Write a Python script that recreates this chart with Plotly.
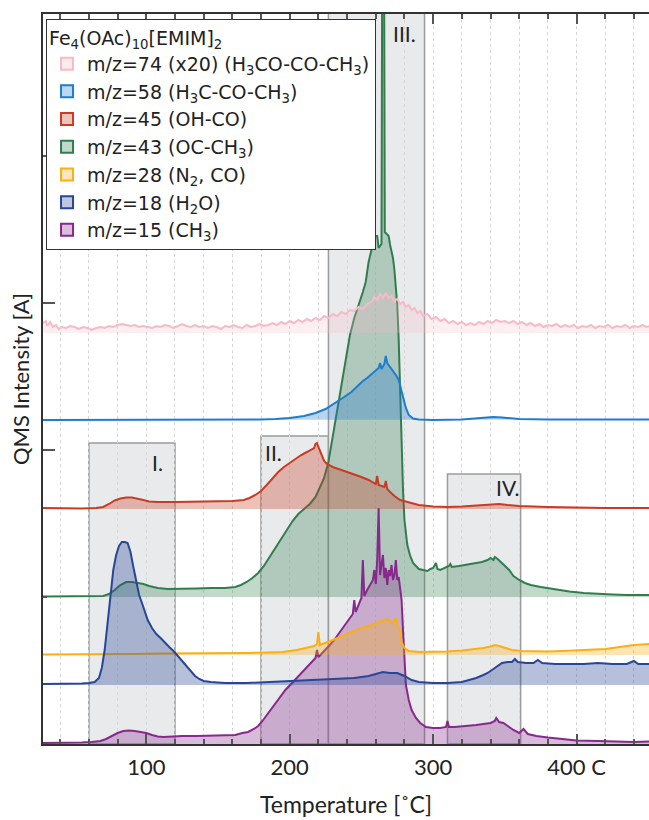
import plotly.graph_objects as go

# ---------------------------------------------------------------------------
# QMS ion currents during heating of Fe4(OAc)10[EMIM]2
# each list: (temperature in deg C, signal above its own baseline, a.u.)
# ---------------------------------------------------------------------------
mz74 = [(28,10),(30,12),(31,7),(33,11),(35,6),(37,8),(39,4),(41,6),(44,5),(47,7),(50,6),(53,4),
        (56,6),(59,5),(62,3),(65,5),(68,6),(71,5),(74,7),(77,6),(80,8),(83,9),(86,8),(89,7),
        (92,8),(95,6),(98,7),(101,6),(104,5),(107,7),(110,6),(113,8),(116,7),(119,5),(122,7),
        (125,9),(128,7),(131,6),(134,8),(137,6),(140,7),(143,5),(146,7),(149,6),(152,4),(155,7),
        (158,6),(161,8),(164,6),(167,5),(170,8),(173,6),(176,7),(179,9),(182,7),(185,8),(188,10),
        (191,8),(194,11),(197,9),(200,12),(203,10),(206,13),(209,11),(212,14),(215,12),(218,15),
        (221,13),(224,17),(227,15),(230,19),(233,17),(236,21),(239,19),(242,23),(245,22),(248,26),
        (251,24),(254,29),(257,31),(259,36),(261,33),(263,39),(265,35),(267,40),(269,35),(271,37),
        (273,32),(275,34),(277,29),(279,31),(281,26),(283,28),(285,23),(287,25),(289,20),(291,22),
        (293,17),(296,19),(299,14),(302,16),(305,12),(308,14),(311,10),(314,12),(317,9),(320,11),
        (323,8),(326,10),(329,8),(332,11),(335,9),(338,12),(341,10),(344,13),(347,11),(350,12),
        (353,10),(356,12),(359,9),(362,11),(365,8),(368,10),(371,7),(374,9),(377,6),(380,8),
        (383,7),(386,9),(389,6),(392,8),(395,6),(398,8),(401,5),(404,7),(407,6),(410,8),(413,5),
        (416,7),(419,6),(422,8),(425,5),(428,7),(431,6),(434,8),(437,5),(440,7),(443,6),(446,8),
        (449,6),(451,7)]

mz58 = [(28,0),(100,0),(160,0),(180,0.5),(190,1),(200,2),(210,4),(218,7),(225,11),(232,17),
        (238,23),(243,28),(247,34),(251,39),(254,42),(257,46),(260,50),(262,52),(263,57),(264,51),
        (266,56),(267,64),(268,57),(270,53),(272,50),(274,45),(276,40),(277,34),(279,23),(281,12),
        (283,5),(286,1.5),(290,0.5),(300,0),(320,0.5),(335,2),(342,3),(348,2.5),(360,1),(380,0.5),
        (451,0.5)]

mz45 = [(28,1),(40,0.5),(55,0.5),(65,1),(70,2),(74,5),(78,8.5),(82,10.5),(86,11.5),(90,11.5),
        (94,10.5),(98,9),(102,7.5),(108,7),(120,7),(135,7.5),(150,7.5),(160,8),(168,9),(172,11),
        (176,14),(180,18),(184,24),(188,31),(192,37),(196,42),(200,46),(204,50),(208,54),(212,57),
        (215,59),(217,61),(218,65),(219,66),(220,62),(222,54),(224,48),(226,45),(230,42),(235,39.5),
        (240,37),(245,35),(250,32),(255,29),(258,27),(260,25),(261,33),(262,24),(264,23),(266,22),
        (267,28),(268,20),(270,17),(273,13),(277,9),(282,7),(290,4),(300,2.5),(310,2),(320,2.5),
        (330,3.5),(340,4.5),(346,5),(352,4),(360,3),(380,2),(400,1.5),(420,1),(451,1)]

mz43 = [(28,0.5),(45,0.5),(60,0.5),(70,1),(74,3),(78,7),(82,12),(86,15),(90,15),(94,14),(98,13),
        (102,11),(108,9),(115,8),(125,8),(135,8.5),(145,9),(155,9),(162,10),(166,12),(170,15),
        (174,19),(178,24),(182,31),(186,40),(190,49),(194,59),(198,68),(202,76),(206,83),(210,88),
        (214,93),(218,100),(221,109),(224,119),(227,135),(229,152),(231,169),(233,187),(236,212),
        (239,237),(242,262),(245,279),(247,287),(249,297),(251,305),(253,315),(255,335),(257,347),
        (258,357),(259,359),(260,361),(261,361),(262,349),(263,351),(264,353),(264.5,640),
        (265.8,640),(266.3,365),(268,363),(269,361),(270,352),(272,339),(273,327),(274,312),
        (275,292),(276,257),(277,217),(278,157),(279,107),(280,77),(282,52),(284,41),(286,34),
        (288,31),(290,28),(293,27),(296,26),(298,28),(300,29),(302,34),(303,28),(305,27),(308,29),
        (311,31),(312,33),(313,30),(318,31),(322,32),(326,33),(330,34.5),(334,35),(338,37),(340,39),
        (342,37),(343,40),(345,38),(347,35),(350,31),(353,27),(356,21),(360,17),(364,14),(368,12),
        (375,10),(385,7.5),(395,5.5),(405,4),(415,3),(425,2.5),(435,2),(451,2)]

mz28 = [(28,0.5),(50,0.5),(70,1),(90,1),(110,1.5),(130,1.5),(150,1.5),(170,2),(185,2.5),(195,3),
        (205,5),(212,7),(217,9),(219,11),(220,23),(221,10),(225,12),(230,15),(235,18),(240,21),
        (245,24),(250,27),(255,29),(258,31),(262,33),(266,35),(268,36),(270,34),(272,32),(274,37),
        (275,30),(277,25),(278,13),(280,7),(283,4),(290,3),(300,3),(310,3.5),(320,4.5),(330,6),
        (335,7),(340,8.5),(343,10),(346,9),(350,7),(355,5),(362,4),(370,3.5),(380,3.5),(390,4),
        (400,4.5),(410,5),(420,6),(430,8),(440,10),(451,11)]

mz18 = [(28,1),(40,1),(50,1),(55,1.5),(60,2),(64,3),(67,7),(69,17),(71,35),(73,60),(75,90),
        (77,115),(79,130),(81,139),(83,143),(85,143),(87,142),(89,133),(91,118),(93,102),(95,90),
        (97,82),(99,73),(101,65),(104,57),(107,51),(110,47),(113,42),(116,38),(119,34),(122,29),
        (125,24),(128,18),(131,13),(134,9),(137,6),(140,4),(145,3),(155,2),(170,2),(185,3),(200,4),
        (215,5),(230,6),(245,7),(255,9),(262,12),(265,13),(270,12),(275,12),(280,9),(285,5),(290,3),
        (300,2),(310,2),(320,3),(325,5),(330,7),(335,10),(338,12),(342,16),(345,19),(348,22),
        (352,23),(355,23),(357,26),(359,23),(365,22),(370,22),(373,25),(376,22),(385,21),(395,21),
        (405,21),(415,22),(425,21),(435,21),(440,24),(443,21),(451,21)]

mz15 = [(28,1),(35,1),(45,1),(55,1.5),(62,2),(68,3),(72,5),(76,8),(80,11),(84,13),(88,13.5),
        (92,13),(96,12),(100,11),(104,9),(108,7.5),(112,7),(118,7.5),(125,8),(135,8),(145,8.5),
        (155,8.5),(162,9),(167,11),(171,12),(175,15),(178,18),(181,23),(185,31),(189,39),(193,47),
        (197,54),(201,60),(205,66),(209,72),(213,78),(216,83),(218,86),(219,94),(220,87),(222,90),
        (225,94),(228,99),(231,104),(234,110),(237,116),(240,122),(242,126),(244,130),(245,144),
        (246,132),(248,139),(250,146),(251,184),(252,148),(254,154),(256,159),(258,164),(259,174),
        (260,160),(261,184),(262,236),(263,169),(264,179),(265,189),(266,166),(267,176),(268,159),
        (269,174),(270,168),(271,179),(272,164),(273,169),(274,184),(275,164),(276,167),(277,154),
        (278,144),(279,114),(280,84),(281,59),(283,44),(285,34),(288,26),(291,21),(295,17),(300,16),
        (305,16),(309,17),(310,23),(311,17),(315,17),(320,17.5),(325,18.5),(330,19),(335,20),
        (340,21),(343,23),(344,26),(346,22),(349,21),(352,18),(356,14),(360,11),(363,15),(366,10),
        (372,8),(380,6.5),(390,5),(400,3.5),(415,3),(430,2),(440,2),(451,2.5)]

# legend labels, top to bottom
names = {
    "74": "m/z=74 (x20) (H<sub>3</sub>CO-CO-CH<sub>3</sub>)",
    "58": "m/z=58 (H<sub>3</sub>C-CO-CH<sub>3</sub>)",
    "45": "m/z=45 (OH-CO)",
    "43": "m/z=43 (OC-CH<sub>3</sub>)",
    "28": "m/z=28 (N<sub>2</sub>, CO)",
    "18": "m/z=18 (H<sub>2</sub>O)",
    "15": "m/z=15 (CH<sub>3</sub>)",
}
series = {"74": mz74, "58": mz58, "45": mz45, "43": mz43, "28": mz28, "18": mz18, "15": mz15}

# vertical stacking of the traces (axis units)
offsets = {"74": 411, "58": 324, "45": 235, "43": 147, "28": 89, "18": 59, "15": 0}
line_rgb = {
    "74": (246, 186, 200),
    "58": (30, 125, 205),
    "45": (200, 60, 35),
    "43": (50, 125, 80),
    "28": (250, 175, 20),
    "18": (40, 70, 150),
    "15": (135, 40, 140),
}
fill_alpha = {"74": 0.25, "58": 0.32, "45": 0.32, "43": 0.30, "28": 0.32, "18": 0.34, "15": 0.32}

# decomposition stages (start, end, box top, label, label x, label y)
stages = [
    (60, 120, 301, "I.", 108, 282),
    (180, 227, 308, "II.", 189, 292),
    (227, 294, 740, "III.", 280, 711),
    (310, 361, 270, "IV.", 352, 257),
]

X_RANGE = [28, 450.5]
Y_RANGE = [0, 730]

def rgb(c, a=None):
    if a is None:
        return "rgb(%d,%d,%d)" % c
    return "rgba(%d,%d,%d,%.2f)" % (c + (a,))

fig = go.Figure()

legend_order = ["74", "58", "45", "43", "28", "18", "15"]
draw_order = ["43", "15", "74", "58", "45", "28", "18"]

# each curve with its filled area down to its own baseline
for key in draw_order:
    t = [p[0] for p in series[key]]
    v = [p[1] + offsets[key] for p in series[key]]
    base = offsets[key]
    fig.add_trace(go.Scatter(
        x=t + [t[-1], t[0]], y=v + [base, base],
        mode="lines", line=dict(width=0), fill="toself",
        fillcolor=rgb(line_rgb[key], fill_alpha[key]),
        hoverinfo="skip", showlegend=False))
    fig.add_trace(go.Scatter(
        x=t, y=v, mode="lines",
        line=dict(color=rgb(line_rgb[key]), width=2),
        showlegend=False))

# legend swatches
for i, key in enumerate(legend_order):
    fig.add_trace(go.Scatter(
        x=[None], y=[None], mode="markers", name=names[key], legendrank=i + 1,
        marker=dict(symbol="square", size=14, color=rgb(line_rgb[key], 0.30),
                    line=dict(color=rgb(line_rgb[key]), width=2))))

shapes = []
annotations = []
for (t0, t1, top, lab, lx, ly) in stages:
    shapes.append(dict(type="rect", xref="x", yref="y", x0=t0, x1=t1, y0=0, y1=top,
                       fillcolor="#e9eaec", line=dict(color="#9c9c9c", width=1.5),
                       layer="below"))
    annotations.append(dict(x=lx, y=ly, xref="x", yref="y", text=lab, showarrow=False,
                            font=dict(family="Lato", size=21, color="#222")))

fig.update_layout(
    width=649, height=820,
    margin=dict(l=43, r=0, t=14, b=76),
    paper_bgcolor="white", plot_bgcolor="white",
    font=dict(family="Lato", color="#222"),
    shapes=shapes, annotations=annotations,
    legend=dict(
        x=0.005, y=0.993, xanchor="left", yanchor="top",
        bgcolor="white", bordercolor="#333", borderwidth=1,
        font=dict(family="DejaVu Sans", size=19, color="#222"),
        title=dict(text="Fe<sub>4</sub>(OAc)<sub>10</sub>[EMIM]<sub>2</sub>",
                   font=dict(family="DejaVu Sans", size=19, color="#222"), side="top"),
        tracegroupgap=0, itemsizing="constant",
    ),
    xaxis=dict(
        range=X_RANGE, showline=True, linecolor="#333", linewidth=1.5, mirror="ticks",
        ticks="inside", ticklen=10, tickcolor="#555", tickwidth=1.5,
        tick0=0, dtick=100, labelalias={"400": "400 C"},
        tickfont=dict(family="Lato", size=22, color="#222"), ticklabelstandoff=3,
        showgrid=True, gridcolor="#d6d6d6", griddash="dot", gridwidth=1,
        minor=dict(tick0=0, dtick=20, ticks="inside", ticklen=5, tickcolor="#555",
                   showgrid=True, gridcolor="#d6d6d6", griddash="dot", gridwidth=1),
        title=dict(text="Temperature [˚C]", font=dict(family="Lato", size=23, color="#222"),
                   standoff=18),
        zeroline=False,
    ),
    yaxis=dict(
        range=Y_RANGE, showline=True, linecolor="#333", linewidth=1.5,
        showticklabels=False, ticks="inside", ticklen=12, tickcolor="#555", tickwidth=1.5,
        tickmode="array", tickvals=[294, 441],
        minor=dict(tickmode="array", tickvals=[0, 147, 588], ticks="inside", ticklen=4,
                   tickcolor="#555"),
        showgrid=False, zeroline=False,
        title=dict(text="QMS Intensity [A]", font=dict(family="Lato", size=22, color="#222"),
                   standoff=6),
    ),
)

fig.write_html("out.html")
